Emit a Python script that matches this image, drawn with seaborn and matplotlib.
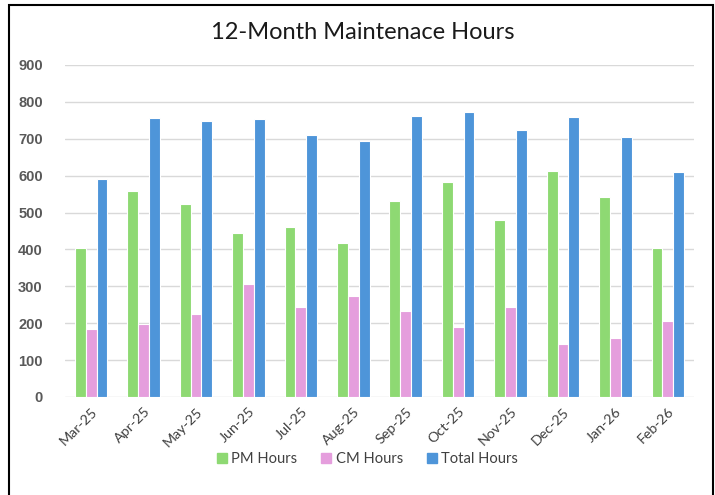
import pandas as pd
import matplotlib.pyplot as plt
import matplotlib.patches as mpatches
import seaborn as sns

months = ['Mar-25', 'Apr-25', 'May-25', 'Jun-25', 'Jul-25', 'Aug-25',
          'Sep-25', 'Oct-25', 'Nov-25', 'Dec-25', 'Jan-26', 'Feb-26']
pm_hours = [404, 558, 522, 444, 460, 418, 531, 584, 479, 613, 541, 404]
cm_hours = [183, 197, 226, 307, 245, 274, 232, 190, 245, 144, 160, 206]
total_hours = [590, 756, 747, 753, 710, 695, 763, 772, 724, 760, 704, 609]
series = ['PM Hours', 'CM Hours', 'Total Hours']
colors = ['#8ED973', '#E59EDD', '#4E95D9']
y_ticks = [0, 100, 200, 300, 400, 500, 600, 700, 800, 900]

df = pd.DataFrame({'Month': months, 'PM Hours': pm_hours,
                   'CM Hours': cm_hours, 'Total Hours': total_hours})
long = df.melt(id_vars='Month', var_name='Series', value_name='Hours')

sns.set_style('white')
plt.rcParams['font.family'] = ['Lato', 'DejaVu Sans']

fig = plt.figure(figsize=(7.15, 4.95), dpi=100)
ax = fig.add_axes([0.0909, 0.198, 0.8797, 0.6707])

sns.barplot(data=long, x='Month', y='Hours', hue='Series', hue_order=series,
            palette=colors, width=0.62, edgecolor='white', linewidth=0.8,
            saturation=1, legend=False, ax=ax)

ax.set_ylim(0, 900)
ax.set_yticks(y_ticks)
ax.set_xlim(-0.5, len(months) - 0.5)
ax.yaxis.grid(True, color='#D9D9D9', linewidth=1)
ax.set_axisbelow(True)
for s in ax.spines.values():
    s.set_visible(False)
ax.tick_params(axis='both', length=0)
ax.tick_params(axis='y', pad=16)
ax.set_xlabel('')
ax.set_ylabel('')
for lbl in ax.get_yticklabels():
    lbl.set_fontfamily(['Liberation Sans', 'DejaVu Sans'])
    lbl.set_fontweight('bold')
    lbl.set_fontsize(10.5)
    lbl.set_color('#595959')
ax.set_xticks(range(len(months)))
ax.set_xticklabels(months, rotation=45, ha='right', rotation_mode='anchor',
                   fontsize=10.3, color='#404040')
ax.tick_params(axis='x', pad=6)

fig.suptitle('12-Month Maintenace Hours', x=0.508, y=0.955, fontsize=17,
             color='#1a1a1a')

handles = [mpatches.Patch(color=c, label=s) for s, c in zip(series, colors)]
fig.legend(handles=handles, loc='center', bbox_to_anchor=(0.514, 0.073),
           ncol=3, frameon=False, fontsize=10.6, handlelength=0.7,
           handleheight=0.7, handletextpad=0.3, columnspacing=1.6,
           labelcolor='#404040')

border = mpatches.Rectangle((9 / 715, -0.05), 704 / 715, 1 - 5 / 495 + 0.05,
                            transform=fig.transFigure, fill=False,
                            edgecolor='black', linewidth=1.5)
fig.patches.append(border)

fig.savefig('out.png', dpi=100)
